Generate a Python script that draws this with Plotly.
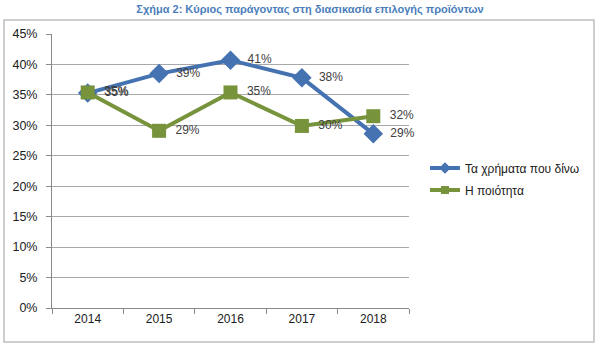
import plotly.graph_objects as go

years = ["2014", "2015", "2016", "2017", "2018"]
money = [35.3, 38.5, 40.7, 37.8, 28.6]
quality = [35.4, 29.1, 35.4, 29.9, 31.5]
money_labels = ["35%", "39%", "41%", "38%", "29%"]
quality_labels = ["35%", "29%", "35%", "30%", "32%"]
series_names = ["Τα χρήματα που δίνω", "Η ποιότητα"]
title_text = "Σχήμα 2: Κύριος παράγοντας στη διασικασία επιλογής προϊόντων"

BLUE = "#4572b0"
GREEN = "#77933c"
FONT = "Liberation Sans, Arial, sans-serif"

fig = go.Figure()
for vals, labels, name, color, sym, size in [
    (money, money_labels, series_names[0], BLUE, "diamond", 15),
    (quality, quality_labels, series_names[1], GREEN, "square", 14),
]:
    fig.add_trace(go.Scatter(
        x=years, y=vals, name=name, mode="lines+markers+text",
        line=dict(color=color, width=4),
        marker=dict(symbol=sym, size=size, color=color),
        text=["  " + t for t in labels], textposition="middle right",
        textfont=dict(color="#404040", size=12, family=FONT),
        cliponaxis=False, showlegend=False,
    ))
for name, color, sym, size in [
    (series_names[0], BLUE, "diamond", 9),
    (series_names[1], GREEN, "square", 8),
]:
    fig.add_trace(go.Scatter(
        x=[None], y=[None], name=name, mode="lines+markers",
        line=dict(color=color, width=4),
        marker=dict(symbol=sym, size=size, color=color),
        legendgroup=name, showlegend=True,
    ))

L, R, T, B = 52, 191, 34, 41
W, H = 600, 349
pw, ph = W - L - R, H - T - B

fig.update_layout(
    width=W, height=H,
    margin=dict(l=L, r=R, t=T, b=B),
    paper_bgcolor="white", plot_bgcolor="white",
    font=dict(family=FONT, size=12, color="#404040"),
    title=dict(text="<b>" + title_text + "</b>", x=310 / W, xanchor="center",
               y=1 - 9 / H, yanchor="middle",
               font=dict(size=11, color="#4a7ebb", family=FONT)),
    showlegend=True,
    legend=dict(x=(425 - L) / pw, xanchor="left", y=(308 - 179) / ph, yanchor="middle",
                font=dict(size=12, color="#202020", family=FONT),
                itemwidth=30, tracegroupgap=3, bgcolor="rgba(0,0,0,0)"),
    xaxis=dict(type="category", showline=True, linecolor="#888888", linewidth=1,
               ticks="outside", tickson="boundaries", ticklen=5, tickcolor="#888888",
               showgrid=False, tickfont=dict(size=12, color="#202020"),
               range=[-0.5, 4.5]),
    yaxis=dict(range=[0, 45], dtick=5, ticksuffix="%", showline=True,
               linecolor="#888888", linewidth=1, ticks="outside", ticklen=5,
               tickcolor="#888888", showgrid=True, gridcolor="#a8a8a8", gridwidth=1,
               zeroline=False, tickfont=dict(size=12.5, color="#202020"),
               ticklabelstandoff=6),
    shapes=[dict(type="rect", xref="paper", yref="paper",
                 x0=(4 - L) / pw, x1=(594 - L) / pw,
                 y0=-(342 - 308) / ph, y1=1 + (T - 20) / ph,
                 line=dict(color="#bfbfbf", width=1.5), fillcolor="rgba(0,0,0,0)",
                 layer="below")],
)

fig.write_html("out.html")
